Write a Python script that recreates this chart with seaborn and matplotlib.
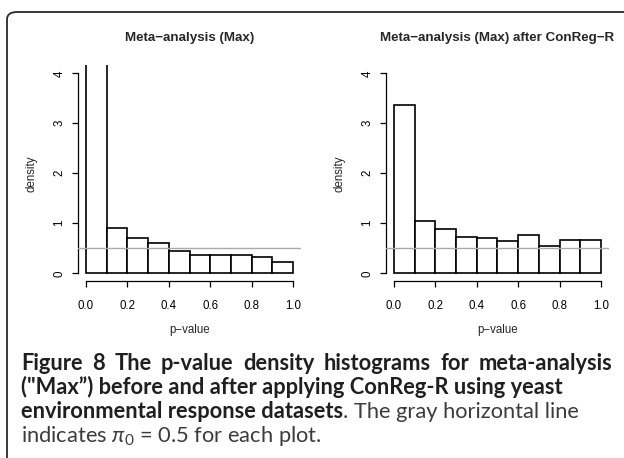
import matplotlib
matplotlib.use("Agg")
import matplotlib.pyplot as plt
import seaborn as sns
import numpy as np
from matplotlib.patches import FancyBboxPatch

# ---- data ----
bin_edges = [0.0, 0.1, 0.2, 0.3, 0.4, 0.5, 0.6, 0.7, 0.8, 0.9, 1.0]
before_density = [5.70, 0.90, 0.70, 0.61, 0.44, 0.36, 0.37, 0.37, 0.32, 0.23]
after_density = [3.37, 1.05, 0.89, 0.73, 0.71, 0.64, 0.76, 0.55, 0.67, 0.67]
pi0 = 0.5
titles = ["Meta\u2212analysis (Max)", "Meta\u2212analysis (Max) after ConReg\u2212R"]
x_ticks = [0.0, 0.2, 0.4, 0.6, 0.8, 1.0]
x_ticklabels = ["0.0", "0.2", "0.4", "0.6", "0.8", "1.0"]
y_ticks = [0, 1, 2, 3, 4]
y_ticklabels = ["0", "1", "2", "3", "4"]
x_label = "p\u2212value"
y_label = "density"
caption_line1 = "Figure 8 The p-value density histograms for meta-analysis"
caption_line2 = "(\"Max\u201d) before and after applying ConReg-R using yeast"
caption_line3_bold = "environmental response datasets"
caption_line3_rest = ". The gray horizontal line"
caption_line4 = r"indicates $\pi_0$ = 0.5 for each plot."

sns.set_theme(style="white")
plt.rcParams["font.family"] = ["Liberation Sans", "DejaVu Sans"]
plt.rcParams["mathtext.fontset"] = "custom"
plt.rcParams["mathtext.rm"] = "Lato"
plt.rcParams["mathtext.it"] = "Lato:italic"

W, H = 624, 458
fig = plt.figure(figsize=(W / 100, H / 100), dpi=100)
fig.patch.set_facecolor("white")

def fx(px):
    return px / W

def fy(py):
    return 1 - py / H

# border (rounded box, open to the right and bottom)
box = FancyBboxPatch((fx(7), fy(470)), fx(700), (470 - 12) / H,
                     boxstyle="round,pad=0,rounding_size=0.016",
                     transform=fig.transFigure, fill=False,
                     edgecolor="#2a2a2a", linewidth=1.3, clip_on=False)
fig.add_artist(box)

centers = [(bin_edges[i] + bin_edges[i + 1]) / 2 for i in range(len(bin_edges) - 1)]
panels = [(77.7, before_density), (385.7, after_density)]
ax_w = 223.6
ax_top, ax_bot = 65.3, 281.3

for (left, dens), title in zip(panels, titles):
    ax = fig.add_axes([fx(left), fy(ax_bot), ax_w / W, (ax_bot - ax_top) / H])
    sns.histplot(x=centers, weights=dens, bins=bin_edges, stat="count",
                 color="white", edgecolor="black", linewidth=1.2, alpha=1,
                 ax=ax)
    ax.axhline(pi0, color="#aaaaaa", linewidth=1.0, zorder=5)
    ax.set_xlim(-0.04, 1.04)
    ax.set_ylim(-0.16, 4.16)
    ax.set_facecolor("white")
    for s in ["top", "right"]:
        ax.spines[s].set_visible(False)
    ax.spines["bottom"].set_bounds(0, 1)
    ax.spines["left"].set_bounds(0, 4)
    for s in ["bottom", "left"]:
        ax.spines[s].set_color("black")
        ax.spines[s].set_linewidth(0.9)
    ax.set_xticks(x_ticks)
    ax.set_xticklabels(x_ticklabels)
    ax.set_yticks(y_ticks)
    ax.set_yticklabels(y_ticklabels, rotation=90, va="center")
    ax.tick_params(axis="both", direction="out", length=4.2, width=0.9,
                   colors="black", labelsize=8.3, bottom=True, left=True)
    ax.tick_params(axis="x", pad=9)
    ax.tick_params(axis="y", pad=4.5)
    ax.set_xlabel("")
    ax.set_ylabel("")
    cx = left + ax_w / 2
    fig.text(fx(cx), fy(38.5), title, ha="center", va="center",
             fontsize=9.6, fontweight="bold")
    fig.text(fx(cx), fy(330.5), x_label, ha="center", va="center", fontsize=8.3)
    fig.text(fx(left - 46.5), fy((ax_top + ax_bot) / 2), y_label, ha="center",
             va="center", rotation=90, fontsize=8.3)

# ---- caption ----
cap_font = ["Lato", "DejaVu Sans"]
bold_col = "#1f1f1f"
norm_col = "#3c3c3c"
fig.canvas.draw()
r = fig.canvas.get_renderer()

def width_of(s, size, weight):
    t = fig.text(0, 0, s, fontsize=size, fontweight=weight, family=cap_font)
    w = t.get_window_extent(r).width
    t.remove()
    return w

x0 = 21
fs = 1.03 * 12 * (545 - x0) / width_of(caption_line2, 12, "bold")

# line 1: justified to full width
words = caption_line1.split(" ")
ww = [width_of(w_, fs, "bold") for w_ in words]
gap = (612 - x0 - sum(ww)) / (len(words) - 1)
xpos = x0
for w_, wd in zip(words, ww):
    fig.text(fx(xpos), fy(369.5), w_, ha="left", va="baseline", fontsize=fs,
             fontweight="bold", family=cap_font, color=bold_col)
    xpos += wd + gap

fig.text(fx(x0), fy(393.5), caption_line2, ha="left", va="baseline",
         fontsize=fs, fontweight="bold", family=cap_font, color=bold_col)
b3 = width_of(caption_line3_bold, fs, "bold")
fig.text(fx(x0), fy(417.5), caption_line3_bold, ha="left", va="baseline",
         fontsize=fs, fontweight="bold", family=cap_font, color=bold_col)
fig.text(fx(x0 + b3), fy(417.5), caption_line3_rest, ha="left", va="baseline",
         fontsize=fs, family=cap_font, color=norm_col)
fig.text(fx(x0), fy(442), caption_line4, ha="left", va="baseline",
         fontsize=fs, family=cap_font, color=norm_col)

fig.savefig("out.png", dpi=100)
